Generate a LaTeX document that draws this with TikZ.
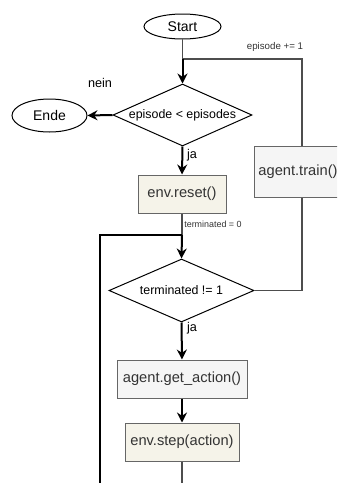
\documentclass[tikz,border=0pt]{standalone}
\usepackage{fontspec}
\setmainfont{Liberation Sans}
\usetikzlibrary{shapes.geometric,arrows.meta}
\definecolor{envfill}{HTML}{F5F3E9}
\definecolor{agentfill}{HTML}{F5F5F5}
\definecolor{boxline}{HTML}{666666}
\definecolor{wire}{HTML}{4D4D4D}
\definecolor{txt}{HTML}{333333}
\tikzset{
  terminal/.style={ellipse, draw=black, line width=0.75pt, fill=white, inner sep=0pt, font=\fontsize{10.5}{12}\selectfont},
  decision/.style={diamond, draw=black, line width=0.75pt, fill=white, inner sep=0pt, aspect=2.2, font=\fontsize{9.3}{11}\selectfont},
  envbox/.style={rectangle, draw=boxline, line width=0.75pt, fill=envfill, inner sep=0pt, text=txt, minimum height=28.5pt, font=\fontsize{11}{13}\selectfont},
  agentbox/.style={rectangle, draw=boxline, line width=0.75pt, fill=agentfill, inner sep=0pt, text=txt, minimum height=28.5pt, font=\fontsize{11}{13}\selectfont},
  flow/.style={draw=black, line width=1.5pt, -{Stealth[length=7.5pt,width=7.5pt,inset=2.5pt]}},
  wireline/.style={draw=wire, line width=1pt},
  loopline/.style={draw=black, line width=1pt},
  smalllabel/.style={text=txt, inner sep=0pt},
  branchlabel/.style={font=\fontsize{9.5}{11}\selectfont, inner sep=0pt}
}
\begin{document}
\begin{tikzpicture}[x=0.75pt, y=-0.75pt]
  \useasboundingbox (0,0) rectangle (337,483);
  \clip (0,0) rectangle (337,483);

  % nodes
  \node[terminal, minimum width=57.75pt, minimum height=18.75pt] (start) at (182.5,26.5) {Start};
  \node[decision, minimum width=104.25pt, minimum height=46.5pt] (cond1) at (182.5,115) {\makebox[0pt]{episode < episodes}};
  \node[terminal, minimum width=56.25pt, minimum height=24.75pt] (ende) at (49.5,115.5) {Ende};
  \node[envbox, minimum width=66pt] (reset) at (182,194) {env.reset()};
  \node[agentbox, minimum width=66pt, minimum height=38.25pt] (train) at (298,171.5) {agent.train()};
  \node[decision, minimum width=108.75pt, minimum height=47.25pt] (cond2) at (181.5,290.5) {\makebox[0pt]{terminated != 1}};
  \node[agentbox, minimum width=97.5pt] (action) at (182,379) {agent.get\_action()};
  \node[envbox, minimum width=85.5pt] (step) at (182,442) {env.step(action)};

  % junctions and loose ends
  \coordinate (j1) at (182.5,59);
  \coordinate (j2) at (182,235);
  \coordinate (loopend) at (100,490);
  \coordinate (stepend) at (182,490);

  % connectors
  \draw[wireline] (start.south) -- (j1);
  \draw[wireline] ([xshift=3pt]train.north) |- (j1);
  \draw[flow] (j1) -- (cond1.north);
  \draw[flow] (cond1.west) -- (ende.east);
  \draw[flow] (cond1.south) -- (reset.north);
  \draw[wireline] (reset.south) -- (j2);
  \draw[loopline] (loopend) |- (j2);
  \draw[flow] (j2) -- (cond2.north);
  \draw[wireline] (cond2.east) -| ([xshift=3pt]train.south);
  \draw[flow] (cond2.south) -- (action.north);
  \draw[flow] (action.south) -- (step.north);
  \draw[wireline] (step.south) -- (stepend);

  % labels
  \node[smalllabel, font=\fontsize{7.3}{8}\selectfont] (incr) at (275,47) {episode += 1};
  \node[smalllabel, font=\fontsize{6.7}{8}\selectfont] (zero) at (213,224) {terminated = 0};
  \node[branchlabel] (nein) at (100,83) {nein};
  \node[branchlabel] (ja1) at (192,155) {ja};
  \node[branchlabel] (ja2) at (192,328) {ja};
\end{tikzpicture}
\end{document}
